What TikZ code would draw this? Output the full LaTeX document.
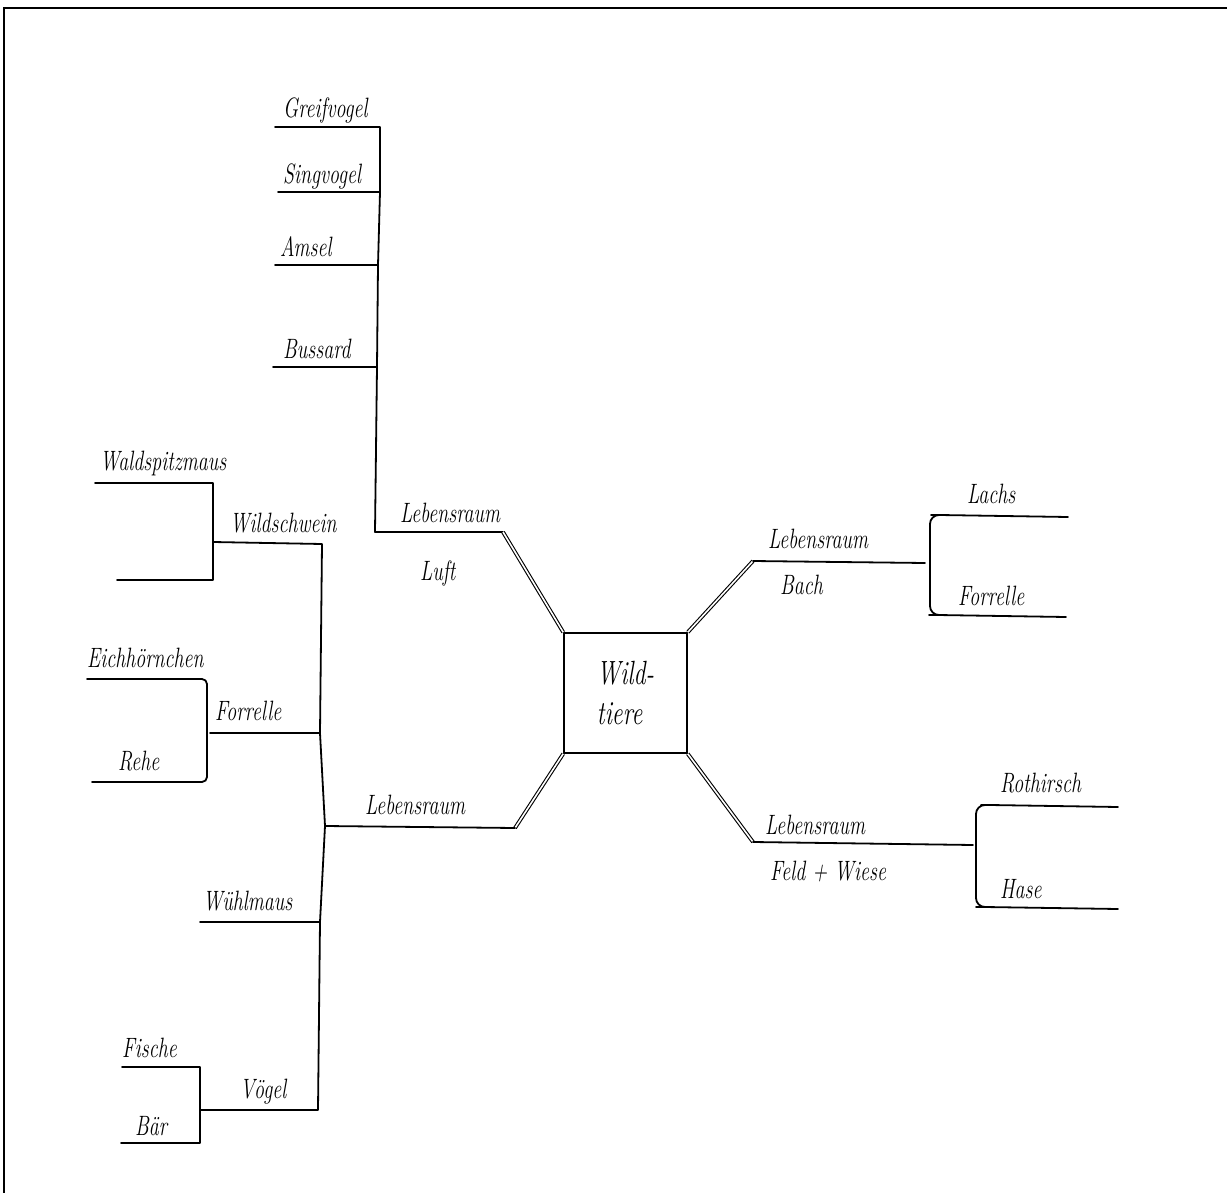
\documentclass[tikz,border=0pt]{standalone}
\usepackage{fontspec}
\usepackage{graphicx}
\newcommand\hwtext[1]{\scalebox{1}[1.4]{#1}}
\begin{document}
\begin{tikzpicture}[x=1pt,y=-1pt,
  ln/.style={line width=1.8pt, line cap=round, line join=round},
  dbl/.style={double, line width=1.1pt, double distance=1.6pt},
  lbl/.style={font=\fontsize{20}{22}\selectfont\itshape, inner sep=0pt, anchor=base west},
  boxst/.style={draw, line width=1.5pt, minimum width=123pt, minimum height=120pt, inner sep=0pt,
     font=\fontsize{24}{40}\selectfont\itshape, align=left}]
\useasboundingbox (0,0) rectangle (1227,1193);
\draw[line width=2pt] (1227,8) -- (4,8) -- (4,1193);

% centre box
\node[boxst] (box) at (625.5,693) {\hwtext{Wild-}\\\hwtext{tiere}};

% ---- top branch: Lebensraum Luft
\coordinate (g1) at (275,127); \coordinate (g2) at (380,127);
\coordinate (s1) at (278,192); \coordinate (s2) at (380,192);
\coordinate (a1) at (275,265); \coordinate (a2) at (378,265);
\coordinate (b1) at (273,367); \coordinate (b2) at (377,367);
\coordinate (lc) at (375,532); \coordinate (le) at (503,532);
\draw[ln] (g1) -- (g2) -- (s2) -- (a2) -- (b2) -- (lc) -- (le);
\draw[ln] (s1) -- (s2);
\draw[ln] (a1) -- (a2);
\draw[ln] (b1) -- (b2);
\draw[dbl] (le) -- (box.north west);
\node[lbl] (tg) at (283,118) {\hwtext{Greifvogel}};
\node[lbl] (ts) at (283,184) {\hwtext{Singvogel}};
\node[lbl] (ta) at (280,257) {\hwtext{Amsel}};
\node[lbl] (tb) at (283,358) {\hwtext{Bussard}};
\node[lbl] (tl1) at (400,522) {\hwtext{Lebensraum}};
\node[lbl] (tl2) at (420,580) {\hwtext{Luft}};

% ---- right upper branch: Lebensraum Bach
\coordinate (bs) at (753,561); \coordinate (bj) at (925,563);
\coordinate (la1) at (940,515); \coordinate (la2) at (1068,517);
\coordinate (fo1) at (938,615); \coordinate (fo2) at (1066,617);
\draw[dbl] (box.north east) -- (bs);
\draw[ln] (bs) -- (bj);
\draw[ln, rounded corners=9pt] (la2) -- (la1) -- (930,515) -- (930,615) -- (fo1) -- (fo2);
\node[lbl] (tb1) at (768,548) {\hwtext{Lebensraum}};
\node[lbl] (tb2) at (780,594) {\hwtext{Bach}};
\node[lbl] (tla) at (967,503) {\hwtext{Lachs}};
\node[lbl] (tfo) at (958,605) {\hwtext{Forrelle}};

% ---- right lower branch: Lebensraum Feld + Wiese
\coordinate (fs) at (753,842); \coordinate (fj) at (973,845);
\coordinate (r1) at (990,805); \coordinate (r2) at (1118,807);
\coordinate (h1) at (985,907); \coordinate (h2) at (1118,909);
\draw[dbl] (box.south east) -- (fs);
\draw[ln] (fs) -- (fj);
\draw[ln, rounded corners=9pt] (r2) -- (r1) -- (976,805) -- (976,907) -- (h1) -- (h2);
\node[lbl] (tf1) at (765,834) {\hwtext{Lebensraum}};
\node[lbl] (tf2) at (770,880) {\hwtext{Feld + Wiese}};
\node[lbl] (tr) at (1000,792) {\hwtext{Rothirsch}};
\node[lbl] (th) at (1000,898) {\hwtext{Hase}};

% ---- left lower branch: Lebensraum
\coordinate (ls) at (515,828); \coordinate (lj) at (325,826);
\draw[dbl] (box.south west) -- (ls);
\draw[ln] (ls) -- (lj);
\node[lbl] (tll) at (365,814) {\hwtext{Lebensraum}};

% trunk
\coordinate (w1) at (213,542); \coordinate (w2) at (322,544);
\coordinate (f1) at (210,733); \coordinate (f2) at (320,733);
\coordinate (wu1) at (200,922); \coordinate (wu2) at (320,922);
\coordinate (v1) at (200,1110); \coordinate (v2) at (318,1110);
\draw[ln] (w1) -- (w2) -- (f2) -- (lj) -- (wu2) -- (v2) -- (v1);
\draw[ln] (f1) -- (f2);
\draw[ln] (wu1) -- (wu2);

% Wildschwein group
\coordinate (ws1) at (95,483); \coordinate (ws2) at (213,483);
\coordinate (e1) at (117,580); \coordinate (e2) at (213,580);
\draw[ln] (ws1) -- (ws2) -- (e2) -- (e1);
\node[lbl] (tws) at (100,470) {\hwtext{Waldspitzmaus}};
\node[lbl] (tw) at (230,532) {\hwtext{Wildschwein}};

% Forrelle group
\coordinate (ei1) at (87,679); \coordinate (ei2) at (207,679);
\coordinate (re1) at (92,782); \coordinate (re2) at (207,782);
\draw[ln, rounded corners=5pt] (ei1) -- (ei2) -- (re2) -- (re1);
\node[lbl] (tei) at (87,667) {\hwtext{Eichhörnchen}};
\node[lbl] (tf) at (215,720) {\hwtext{Forrelle}};
\node[lbl] (tre) at (118,770) {\hwtext{Rehe}};
\node[lbl] (twu) at (203,910) {\hwtext{Wühlmaus}};

% Vögel group
\coordinate (fi1) at (122,1067); \coordinate (fi2) at (200,1067);
\coordinate (ba1) at (121,1143); \coordinate (ba2) at (200,1143);
\draw[ln] (fi1) -- (fi2) -- (ba2) -- (ba1);
\node[lbl] (tfi) at (122,1057) {\hwtext{Fische}};
\node[lbl] (tv) at (240,1098) {\hwtext{Vögel}};
\node[lbl] (tba) at (135,1135) {\hwtext{Bär}};
\end{tikzpicture}
\end{document}
